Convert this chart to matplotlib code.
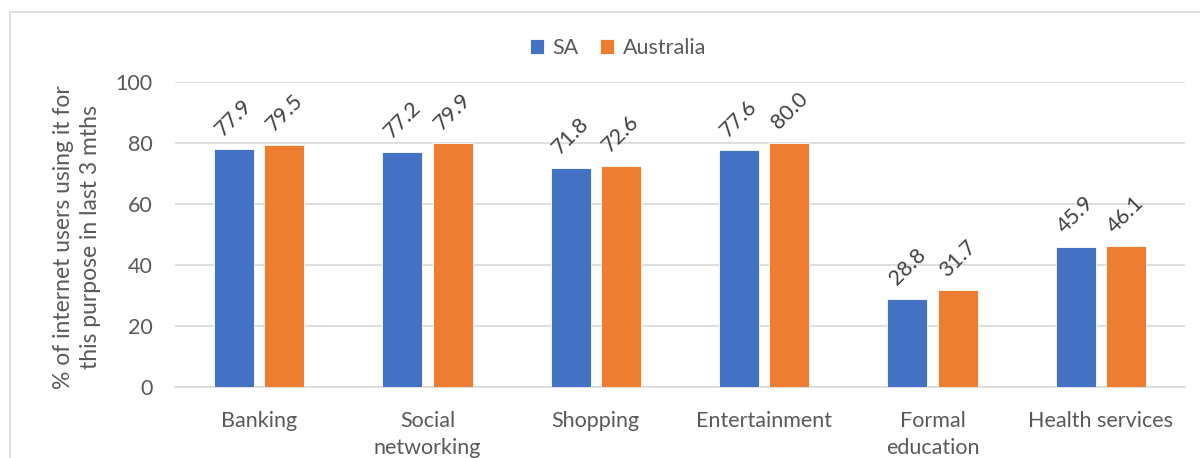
import matplotlib
matplotlib.use("Agg")
import matplotlib.pyplot as plt
import numpy as np
from matplotlib.patches import Rectangle

categories = ["Banking", "Social\nnetworking", "Shopping", "Entertainment", "Formal\neducation", "Health services"]
sa_values = [77.9, 77.2, 71.8, 77.6, 28.8, 45.9]
aus_values = [79.5, 79.9, 72.6, 80.0, 31.7, 46.1]
series_names = ["SA", "Australia"]
yticks = [0, 20, 40, 60, 80, 100]
ylabel = "% of internet users using it for\nthis purpose in last 3 mths"

plt.rcParams['font.family'] = ['Lato', 'DejaVu Sans']
text_color = "#595959"
grid_color = "#D9D9D9"
c_sa = "#4472C4"
c_aus = "#ED7D31"
fs = 15.5

fig = plt.figure(figsize=(12, 4.58), dpi=100)
ax = fig.add_axes([175/1200, 1-387/458, (1185-175)/1200, (387-82)/458])

x = np.arange(len(categories))
w = 0.238
off = 0.149
b1 = ax.bar(x - off, sa_values, w, color=c_sa, edgecolor="white", linewidth=0.6, label=series_names[0], zorder=3)
b2 = ax.bar(x + off, aus_values, w, color=c_aus, edgecolor="white", linewidth=0.6, label=series_names[1], zorder=3)

for bars, vals in ((b1, sa_values), (b2, aus_values)):
    for r, v in zip(bars, vals):
        ax.annotate(f"{v:.1f}", (r.get_x() + r.get_width()/2, v), xytext=(0, 23),
                    textcoords="offset points", ha="center", va="center", rotation=45,
                    fontsize=fs, color="#404040")

ax.set_xlim(-0.5, len(categories) - 0.5)
ax.set_ylim(0, 100)
ax.set_yticks(yticks)
ax.set_yticklabels([str(t) for t in yticks], fontsize=fs, color=text_color)
ax.set_xticks(x)
ax.set_xticklabels(categories, fontsize=fs, color=text_color, linespacing=1.45)
ax.tick_params(axis="both", length=0)
ax.tick_params(axis="y", pad=16)
ax.tick_params(axis="x", pad=17)
ax.yaxis.grid(True, color=grid_color, linewidth=1.2, zorder=0)
ax.set_axisbelow(True)
for s in ["left", "right", "top"]:
    ax.spines[s].set_visible(False)
ax.spines["bottom"].set_color(grid_color)
ax.spines["bottom"].set_linewidth(1.2)
ax.spines["bottom"].set_zorder(1)

fig.text(77/1200, 1-237/458, ylabel, rotation=90, ha="center", va="center",
         fontsize=16.5, color=text_color, linespacing=1.3)

fig.legend(handles=[b1, b2], labels=series_names, loc="center",
           bbox_to_anchor=(618/1200, 1-48/458), ncol=2, frameon=False,
           fontsize=fs, labelcolor=text_color, handlelength=0.65, handleheight=0.65,
           handletextpad=0.4, columnspacing=1.0)

fig.patches.append(Rectangle((9.5/1200, -0.1), 1.2, 1.1 - 11.5/458, transform=fig.transFigure,
                             fill=False, edgecolor=grid_color, linewidth=1.2))

fig.savefig("out.png", dpi=100)
